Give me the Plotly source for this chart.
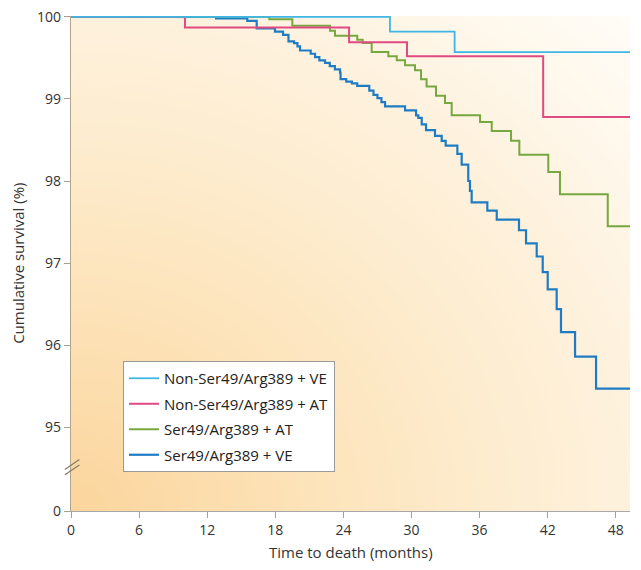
import numpy as np
import plotly.graph_objects as go

# ---- data (months, cumulative survival %) ----
END = 49.25

nonser_ve_t = [0, 28.1, 33.8, END]
nonser_ve_s = [100, 99.82, 99.57, 99.57]

nonser_at_t = [0, 10.04, 24.5, 29.6, 41.6, END]
nonser_at_s = [100, 99.87, 99.69, 99.52, 98.78, 98.78]

ser_at_t = [0, 17.47, 19.50, 22.82, 23.26, 25.22, 25.70, 26.49, 27.96, 28.70, 29.43,
            30.31, 30.84, 31.33, 32.16, 32.95, 33.54, 36.04, 37.07, 38.77, 39.50,
            42.05, 43.08, 47.29, END]
ser_at_s = [100, 99.97, 99.89, 99.83, 99.77, 99.72, 99.68, 99.57, 99.52, 99.47, 99.41,
            99.35, 99.24, 99.15, 99.04, 98.95, 98.80, 98.72, 98.61, 98.49, 98.32,
            98.11, 97.84, 97.45, 97.45]

ser_ve_t = [0, 12.78, 15.53, 16.36, 17.97, 18.68, 19.16, 19.65, 19.95, 20.18,
            21.12, 21.50, 21.88, 22.38, 22.80, 23.25, 23.70, 23.75, 24.25, 24.75, 25.22,
            26.28, 26.65, 27.00, 27.35, 27.67, 29.43, 30.40, 30.60, 30.90, 31.28,
            32.07, 32.66, 33.01, 34.04, 34.42, 35.00, 35.15, 35.30, 36.68, 37.51,
            39.47, 40.09, 41.03, 41.56, 42.00, 42.79, 43.17, 44.41, 46.26, END]
ser_ve_s = [100, 99.98, 99.95, 99.86, 99.82, 99.78, 99.70, 99.68, 99.64, 99.59,
            99.55, 99.51, 99.47, 99.44, 99.40, 99.36, 99.32, 99.24, 99.21, 99.19, 99.16,
            99.10, 99.05, 99.01, 98.96, 98.91, 98.86, 98.80, 98.77, 98.69, 98.62,
            98.55, 98.49, 98.43, 98.33, 98.20, 98.00, 97.88, 97.74, 97.64, 97.53,
            97.40, 97.24, 97.08, 96.89, 96.68, 96.44, 96.16, 95.86, 95.47, 95.47]

x_ticks = [0, 6, 12, 18, 24, 30, 36, 42, 48]
y_tickvals = [93.98, 95, 96, 97, 98, 99, 100]
y_ticktext = ["0", "95", "96", "97", "98", "99", "100"]

# (name, times, survival, colour, width, legend rank)
series = [
    ("Ser49/Arg389 + VE", ser_ve_t, ser_ve_s, "#1f7cc4", 2.2, 4),
    ("Ser49/Arg389 + AT", ser_at_t, ser_at_s, "#77a83f", 2.0, 3),
    ("Non-Ser49/Arg389 + AT", nonser_at_t, nonser_at_s, "#df4a80", 2.0, 2),
    ("Non-Ser49/Arg389 + VE", nonser_ve_t, nonser_ve_s, "#3fb6e6", 1.8, 1),
]

Y0, Y1 = 93.98, 100.01

fig = go.Figure()

# background gradient (styling only)
gx = np.linspace(0, END, 50)
gy = np.linspace(Y0, Y1, 50)
XN, YN = np.meshgrid(np.linspace(0, 1, 50), np.linspace(0, 1, 50))
gz = np.sqrt(XN ** 2 + YN ** 2)
fig.add_trace(go.Heatmap(
    x=gx, y=gy, z=gz, zsmooth="best", showscale=False, hoverinfo="skip",
    zmin=0, zmax=1.4142,
    colorscale=[[0, "#fbd59c"], [0.3, "#fde3b9"], [0.5, "#fdebcc"],
                [0.7, "#fef1dc"], [1, "#fffdf8"]],
))

for i, (name, t, s, c, w, rank) in enumerate(series):
    fig.add_trace(go.Scatter(
        x=t, y=s, mode="lines", name=name, legendgroup=f"g{rank}", legendrank=rank,
        line=dict(color=c, width=w, shape="hv"),
    ))

# axis-break marks
for dy in (0.0, 0.011):
    fig.add_shape(type="line", xref="paper", yref="paper",
                  x0=-0.011, y0=0.073 + dy, x1=0.015, y1=0.093 + dy,
                  line=dict(color="#8a7a66", width=1.2))

font_family = "Open Sans, Lato, sans-serif"
fig.add_annotation(text="Time to death (months)", xref="paper", yref="paper",
                   x=0.5, y=-0.083, xanchor="center", yanchor="middle",
                   showarrow=False, font=dict(size=15, color="#333333"))
fig.add_annotation(text="Cumulative survival (%)", xref="paper", yref="paper",
                   x=-0.096, y=0.5, xanchor="center", yanchor="middle", textangle=-90,
                   showarrow=False, font=dict(size=15, color="#333333"))

# page body adds 8px offset; margins compensate so the plot lands near 71..630 x 16..511
fig.update_layout(
    width=641, height=570,
    margin=dict(l=63, r=19, t=8, b=67, autoexpand=False),
    paper_bgcolor="white", plot_bgcolor="white",
    font=dict(family=font_family, size=14, color="#333333"),
    showlegend=True,
    legend=dict(x=0.093, y=0.303, xanchor="left", yanchor="top",
                bgcolor="white", bordercolor="#9a9a9a", borderwidth=1,
                font=dict(size=15, color="#222222"), tracegroupgap=3,
                itemwidth=30),
    xaxis=dict(range=[0, END], tickvals=x_ticks, ticks="outside", ticklen=6,
               tickcolor="#a0a0a0", showline=True, linecolor="#a8a8a8", linewidth=1,
               showgrid=False, zeroline=False, automargin=False,
               tickfont=dict(size=14, color="#333333")),
    yaxis=dict(range=[Y0, Y1], tickvals=y_tickvals, ticktext=y_ticktext,
               ticks="outside", ticklen=6, tickcolor="#a8a08f",
               showline=True, linecolor="#b3a48e", linewidth=1.2,
               showgrid=False, zeroline=False, automargin=False,
               ticklabeloverflow="allow",
               tickfont=dict(size=14, color="#333333")),
)

fig.write_html("out.html")
